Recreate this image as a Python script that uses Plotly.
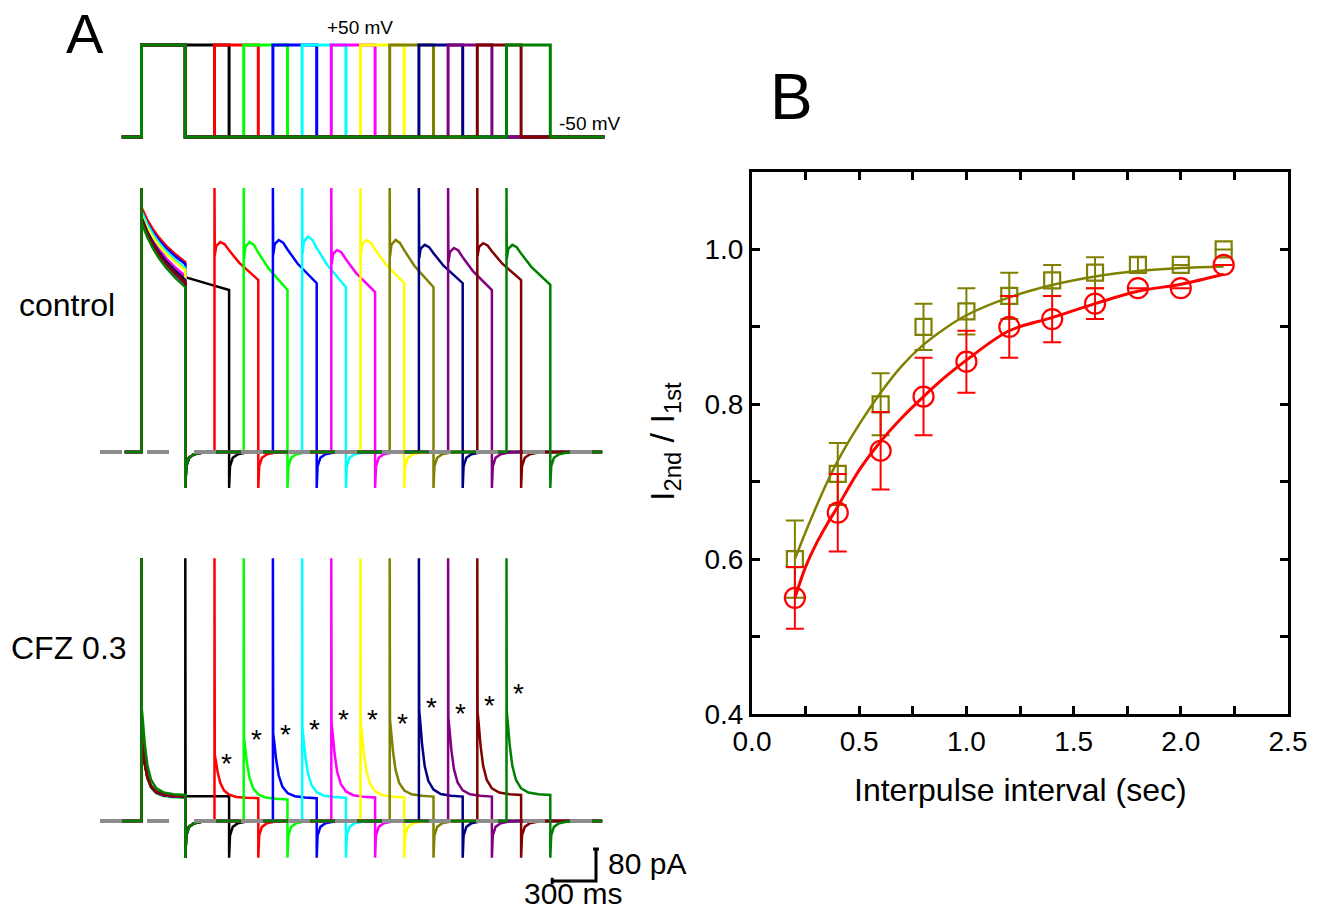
import plotly.graph_objects as go

W, H = 1318, 912
FONT = "Liberation Sans, Arial, sans-serif"

# ---------------- Panel A data ----------------
TRACE_COLORS = ["#000000", "#FF0000", "#00FF00", "#0000FF", "#00FFFF", "#FF00FF",
                "#FFFF00", "#808000", "#000080", "#800080", "#800000", "#008000"]
GAP_MS = [0, 200, 400, 600, 800, 1000, 1200, 1400, 1600, 1800, 2000, 2200]
PULSE_MS = 300
V_HOLD_MV = -50
V_TEST_MV = 50
V_START_MS, V_END_MS = -135, 3170
REC_START_MS, REC_END_MS = -115, 3155

# control currents (pA)
CTRL_P1_PEAK = [590, 610, 595, 600, 600, 585, 590, 580, 585, 580, 580, 572]
CTRL_P1_END = [437, 475, 430, 470, 460, 440, 455, 425, 430, 420, 425, 412]
CTRL_P2_PEAK = [437, 525, 525, 530, 538, 505, 530, 530, 518, 510, 522, 518]
CTRL_P2_END = [405, 430, 405, 422, 412, 400, 422, 412, 422, 405, 430, 418]
CTRL_SPIKE_UP, CTRL_SPIKE_DOWN = 660, -90

# CFZ 0.3 currents (pA)
CFZ_P1_PEAK = [205, 210, 200, 205, 200, 210, 200, 195, 200, 205, 200, 280]
CFZ_P1_PLAT = [63, 60, 58, 60, 62, 60, 61, 62, 60, 60, 62, 65]
CFZ_P2_PEAK = [63, 165, 207, 219, 232, 244, 248, 252, 277, 257, 273, 273]
CFZ_P2_PLAT = [62, 57, 54, 57, 58, 59, 59, 61, 61, 61, 65, 65]
CFZ_SPIKE_UP, CFZ_SPIKE_DOWN = 657, -92
# heights (pA) of the "*" marks drawn over the CFZ second-pulse transients
STAR_PA = [None, 160, 220, 232, 245, 270, 268, 260, 298, 285, 305, 333]

# normalised waveform shapes
CTRL_P1_T = [2, 40, 80, 120, 170, 230, 300]
CTRL_P1_F = [0.0, 0.22, 0.40, 0.55, 0.70, 0.85, 1.0]
CTRL_P2_T = [2, 12, 40, 70, 100, 170, 240, 300]
CTRL_P2_F = [0.35, 0.10, 0.0, 0.06, 0.22, 0.55, 0.80, 1.0]
CFZ_T = [2, 10, 22, 40, 65, 100, 150, 220, 300]
CFZ_F = [1.0, 0.85, 0.60, 0.35, 0.18, 0.08, 0.03, 0.01, 0.0]
TAIL_T = [0, 6, 25, 60, 110, 170]
TAIL_F = [1.0, 0.40, 0.16, 0.06, 0.02, 0.0]

SCALE_T_MS = 300
SCALE_I_PA = 80

# ---------------- Panel B data ----------------
INTERVAL_S = [0.2, 0.4, 0.6, 0.8, 1.0, 1.2, 1.4, 1.6, 1.8, 2.0, 2.2]
OLIVE_RATIO = [0.60, 0.71, 0.80, 0.90, 0.92, 0.94, 0.96, 0.97, 0.98, 0.98, 1.00]
OLIVE_ERR = [0.05, 0.04, 0.04, 0.03, 0.03, 0.03, 0.02, 0.02, 0.01, None, None]
RED_RATIO = [0.55, 0.66, 0.74, 0.81, 0.855, 0.90, 0.91, 0.93, 0.95, 0.95, 0.98]
RED_ERR = [0.04, 0.05, 0.05, 0.05, 0.04, 0.04, 0.03, 0.02, None, None, None]
FIT_X = [0.2, 0.25, 0.3, 0.35, 0.4, 0.5, 0.6, 0.7, 0.8, 0.9, 1.0, 1.2, 1.4, 1.6, 1.8, 2.0, 2.2]
OLIVE_FIT = [0.60, 0.635, 0.668, 0.699, 0.727, 0.774, 0.815, 0.85, 0.877, 0.898, 0.915,
             0.938, 0.954, 0.965, 0.972, 0.976, 0.978]
RED_FIT = [0.55, 0.59, 0.62, 0.645, 0.668, 0.715, 0.752, 0.783, 0.81, 0.835, 0.857,
           0.895, 0.912, 0.93, 0.946, 0.955, 0.968]
X_TICKS = [0.0, 0.5, 1.0, 1.5, 2.0, 2.5]
X_TICK_LABELS = ["0.0", "0.5", "1.0", "1.5", "2.0", "2.5"]
Y_TICKS = [0.4, 0.6, 0.8, 1.0]
Y_TICK_LABELS = ["0.4", "0.6", "0.8", "1.0"]

# ---------------- geometry helpers (pixels -> paper / data) ----------------
T0_PX, PX_PER_MS = 141.5, 0.146


def t_of(px):
    return (px - T0_PX) / PX_PER_MS


def px_x(px):
    return px / W


def px_y(py):
    return 1 - py / H


def tail(t, y, t_end, down):
    for dt, f in zip(TAIL_T, TAIL_F):
        t.append(t_end + dt)
        y.append(down * f)


def voltage_trace(k):
    s = PULSE_MS + GAP_MS[k]
    if GAP_MS[k] == 0:
        t = [V_START_MS, 0, 0, s + PULSE_MS, s + PULSE_MS, V_END_MS]
        v = [V_HOLD_MV, V_HOLD_MV, V_TEST_MV, V_TEST_MV, V_HOLD_MV, V_HOLD_MV]
    else:
        t = [V_START_MS, 0, 0, PULSE_MS, PULSE_MS, s, s, s + PULSE_MS, s + PULSE_MS, V_END_MS]
        v = [V_HOLD_MV, V_HOLD_MV, V_TEST_MV, V_TEST_MV, V_HOLD_MV, V_HOLD_MV,
             V_TEST_MV, V_TEST_MV, V_HOLD_MV, V_HOLD_MV]
    return t, v


def control_trace(k):
    t, y = [REC_START_MS, 0, 0], [0, 0, CTRL_SPIKE_UP]
    p, e = CTRL_P1_PEAK[k], CTRL_P1_END[k]
    for dt, f in zip(CTRL_P1_T, CTRL_P1_F):
        t.append(dt)
        y.append(p - f * (p - e))
    s = PULSE_MS + GAP_MS[k]
    if GAP_MS[k] == 0:
        t += [s + PULSE_MS * 0.5, s + PULSE_MS]
        y += [(CTRL_P2_PEAK[k] + CTRL_P2_END[k]) / 2, CTRL_P2_END[k]]
    else:
        tail(t, y, PULSE_MS, CTRL_SPIKE_DOWN)
        t += [s, s]
        y += [0, CTRL_SPIKE_UP]
        p, e = CTRL_P2_PEAK[k], CTRL_P2_END[k]
        for dt, f in zip(CTRL_P2_T, CTRL_P2_F):
            t.append(s + dt)
            y.append(p - f * (p - e))
    tail(t, y, s + PULSE_MS, CTRL_SPIKE_DOWN)
    t.append(REC_END_MS)
    y.append(0)
    return t, y


def cfz_trace(k):
    t, y = [REC_START_MS - 30, 0, 0], [0, 0, CFZ_SPIKE_UP]
    p, pl = CFZ_P1_PEAK[k], CFZ_P1_PLAT[k]
    for dt, f in zip(CFZ_T, CFZ_F):
        t.append(dt)
        y.append(pl + f * (p - pl))
    s = PULSE_MS + GAP_MS[k]
    if GAP_MS[k] == 0:
        t += [s, s, s + 2, s + PULSE_MS]
        y += [pl, CFZ_SPIKE_UP, CFZ_P2_PLAT[k], CFZ_P2_PLAT[k]]
    else:
        tail(t, y, PULSE_MS, CFZ_SPIKE_DOWN)
        t += [s, s]
        y += [0, CFZ_SPIKE_UP]
        p, pl = CFZ_P2_PEAK[k], CFZ_P2_PLAT[k]
        for dt, f in zip(CFZ_T, CFZ_F):
            t.append(s + dt)
            y.append(pl + f * (p - pl))
    tail(t, y, s + PULSE_MS, CFZ_SPIKE_DOWN)
    t.append(REC_END_MS)
    y.append(0)
    return t, y


fig = go.Figure()

for k, col in enumerate(TRACE_COLORS):
    t, v = voltage_trace(k)
    fig.add_trace(go.Scatter(x=t, y=v, mode="lines", line=dict(color=col, width=3),
                             xaxis="x", yaxis="y", hoverinfo="skip"))
for k, col in enumerate(TRACE_COLORS):
    t, y = control_trace(k)
    fig.add_trace(go.Scatter(x=t, y=y, mode="lines", line=dict(color=col, width=2.5),
                             xaxis="x", yaxis="y2", hoverinfo="skip"))
for k, col in enumerate(TRACE_COLORS):
    t, y = cfz_trace(k)
    fig.add_trace(go.Scatter(x=t, y=y, mode="lines", line=dict(color=col, width=2.5),
                             xaxis="x", yaxis="y3", hoverinfo="skip"))

# zero-current reference (grey dashed)
T_LEFT, T_RIGHT = t_of(100), t_of(603)
for ya in ("y2", "y3"):
    fig.add_trace(go.Scatter(x=[T_LEFT, T_RIGHT], y=[0, 0], mode="lines",
                             line=dict(color="#8C8C8C", width=4, dash="22px,25px"),
                             xaxis="x", yaxis=ya, hoverinfo="skip"))

# scale bar
BAR_T = t_of(596)
BAR_Y = -150
fig.add_trace(go.Scatter(
    x=[BAR_T - 20, BAR_T + 20, None, BAR_T, BAR_T, BAR_T - SCALE_T_MS, None,
       BAR_T - SCALE_T_MS, BAR_T - SCALE_T_MS],
    y=[BAR_Y + SCALE_I_PA, BAR_Y + SCALE_I_PA, None, BAR_Y + SCALE_I_PA, BAR_Y, BAR_Y, None,
       BAR_Y - 8, BAR_Y + 8],
    mode="lines", line=dict(color="black", width=3), xaxis="x", yaxis="y3",
    hoverinfo="skip", cliponaxis=False))

# ---------------- Panel B traces ----------------
fig.add_trace(go.Scatter(x=FIT_X, y=OLIVE_FIT, mode="lines",
                         line=dict(color="#808000", width=2.5, shape="spline"),
                         xaxis="x2", yaxis="y4", hoverinfo="skip"))
fig.add_trace(go.Scatter(x=INTERVAL_S, y=OLIVE_RATIO, mode="markers",
                         marker=dict(symbol="square-open", size=16, color="#808000",
                                     line=dict(width=2.2, color="#808000")),
                         error_y=dict(type="data", array=OLIVE_ERR, color="#808000",
                                      thickness=2, width=9),
                         xaxis="x2", yaxis="y4", hoverinfo="skip"))
fig.add_trace(go.Scatter(x=FIT_X, y=RED_FIT, mode="lines",
                         line=dict(color="#FF0000", width=3, shape="spline"),
                         xaxis="x2", yaxis="y4", hoverinfo="skip"))
fig.add_trace(go.Scatter(x=INTERVAL_S, y=RED_RATIO, mode="markers",
                         marker=dict(symbol="circle-open", size=20, color="#FF0000",
                                     line=dict(width=2.2, color="#FF0000")),
                         error_y=dict(type="data", array=RED_ERR, color="#FF0000",
                                      thickness=2, width=9),
                         xaxis="x2", yaxis="y4", hoverinfo="skip"))

hidden = dict(visible=False, showgrid=False, zeroline=False, fixedrange=True)
axis_b = dict(showline=True, linewidth=3, linecolor="black", mirror="ticks",
              ticks="inside", ticklen=8, tickwidth=2.5, tickcolor="black",
              showgrid=False, zeroline=False, automargin=False,
              tickfont=dict(family=FONT, size=28, color="black"))

fig.update_layout(
    width=W, height=H, autosize=False,
    margin=dict(l=0, r=0, t=0, b=0, pad=0, autoexpand=False),
    paper_bgcolor="white", plot_bgcolor="rgba(0,0,0,0)", showlegend=False,
    font=dict(family=FONT, color="black"),
    xaxis=dict(domain=[px_x(100), px_x(615)], range=[t_of(100), t_of(615)], anchor="y", **hidden),
    yaxis=dict(domain=[px_y(150), px_y(28)],
               range=[V_HOLD_MV - (150 - 137) / 0.92, V_TEST_MV + (45 - 28) / 0.92],
               anchor="x", **hidden),
    yaxis2=dict(domain=[px_y(495), px_y(185)], range=[(452 - 495) * 2.5, (452 - 185) * 2.5],
                anchor="x", **hidden),
    yaxis3=dict(domain=[px_y(900), px_y(550)], range=[(821 - 900) * 2.5, (821 - 550) * 2.5],
                anchor="x", **hidden),
    xaxis2=dict(domain=[px_x(752), px_x(1288)], range=[0, 2.5], anchor="y4",
                tickvals=X_TICKS, ticktext=X_TICK_LABELS,
                minor=dict(dtick=0.25, ticks="inside", ticklen=8, tickwidth=2.5,
                           tickcolor="black", showgrid=False),
                **axis_b),
    yaxis4=dict(domain=[px_y(714), px_y(172)], range=[0.4, 1.1], anchor="x2",
                tickvals=Y_TICKS, ticktext=Y_TICK_LABELS,
                minor=dict(dtick=0.1, ticks="inside", ticklen=8, tickwidth=2.5,
                           tickcolor="black", showgrid=False),
                **axis_b),
)

ann = []


def label(text, px, py, size, xanchor="center", yanchor="middle", **kw):
    ann.append(dict(text=text, x=px_x(px), y=px_y(py), xref="paper", yref="paper",
                    xanchor=xanchor, yanchor=yanchor, showarrow=False,
                    font=dict(family=FONT, size=size, color="black"), **kw))


label("A", 85, 0, 56, yanchor="top")
label("B", 791, 97, 64)
label("control", 67, 305, 32)
label("CFZ 0.3", 69, 648, 32)
label("+50 mV", 360, 28, 19)
label("-50 mV", 557, 124, 19, xanchor="left")
label("80 pA", 606, 863, 30, xanchor="left")
label("300 ms", 573, 893, 30)
label("Interpulse interval (sec)", 1020, 790, 32)
label("I<sub>2nd</sub> / I<sub>1st</sub>", 664, 442, 34, textangle=-90)

# asterisks above CFZ second-pulse transients
for k in range(1, len(GAP_MS)):
    s = PULSE_MS + GAP_MS[k]
    ann.append(dict(text="*", x=s + 85, y=STAR_PA[k] - 15, xref="x", yref="y3",
                    xanchor="center", yanchor="middle", showarrow=False,
                    font=dict(family=FONT, size=28, color="black")))

fig.update_layout(annotations=ann)

fig.write_html(
    "out.html", include_plotlyjs=True,
    config={"displayModeBar": False, "responsive": False},
    post_script=("document.documentElement.style.margin='0';"
                 "document.body.style.margin='0';document.body.style.overflow='hidden';"))
